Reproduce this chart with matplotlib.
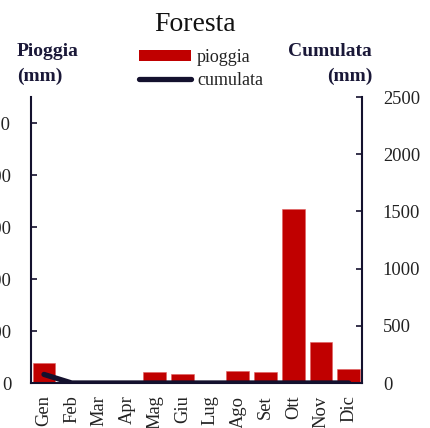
import matplotlib
matplotlib.use("Agg")
import matplotlib.pyplot as plt
from matplotlib.lines import Line2D
from matplotlib.patches import Patch

months = ["Gen", "Feb", "Mar", "Apr", "Mag", "Giu", "Lug", "Ago", "Set", "Ott", "Nov", "Dic"]
pioggia = [38, 0, 0, 0, 21, 17, 0, 24, 21, 334, 79, 27]
cumulata = [75, 0, 0, 0, 0, 0, 0, 0, 0, 0, 0, 0]

RED = "#C00000"
NAVY = "#14112E"
plt.rcParams['font.family'] = ['Liberation Serif', 'DejaVu Serif']

fig = plt.figure(figsize=(4.30, 4.28), dpi=100)
W, H = 430, 428
ax = fig.add_axes([30.7 / W, 1 - 383 / H, (362 - 30.7) / W, (383 - 97) / H])
x = list(range(len(months)))
ax.bar(x, pioggia, width=0.83, color=RED, edgecolor="#e06060", linewidth=0.4, zorder=2)
ax.set_xlim(-0.48, 11.48)
ax.set_ylim(0, 550)
ax.set_yticks([0, 100, 200, 300, 400, 500])
ax.set_xticks(x)
ax.set_xticklabels(months, rotation=90, fontsize=13.3, color="#222222")
ax.tick_params(axis='x', length=0, pad=9)
ax.tick_params(axis='y', direction='in', length=4, width=1.2, color=NAVY, labelsize=13.3,
               labelcolor="#222222", pad=14)
for s in ["top", "right"]:
    ax.spines[s].set_visible(False)
for s in ["left", "bottom"]:
    ax.spines[s].set_color(NAVY)
    ax.spines[s].set_linewidth(1.5)

ax2 = ax.twinx()
ax2.plot(x, cumulata, color=NAVY, linewidth=3.8, solid_capstyle='round', solid_joinstyle='round', zorder=3)
ax2.set_ylim(0, 2500)
ax2.set_yticks([0, 500, 1000, 1500, 2000, 2500])
ax2.tick_params(axis='y', direction='in', length=4, width=1.2, color=NAVY, labelsize=13.3,
                labelcolor="#222222", pad=15)
for s in ["top", "left", "bottom"]:
    ax2.spines[s].set_visible(False)
ax2.spines["right"].set_color(NAVY)
ax2.spines["right"].set_linewidth(1.5)

fig.text(195 / W, 1 - 31 / H, "Foresta", ha='center', va='baseline', fontsize=20, color="#111111")
lab = dict(fontsize=14, fontweight='bold', color="#1a1838", va='baseline')
fig.text(17 / W, 1 - 56 / H, "Pioggia", ha='left', **lab)
fig.text(17 / W, 1 - 81 / H, "(mm)", ha='left', **lab)
fig.text(372 / W, 1 - 56 / H, "Cumulata", ha='right', **lab)
fig.text(372 / W, 1 - 81 / H, "(mm)", ha='right', **lab)

handles = [Patch(facecolor=RED, edgecolor='none'),
           Line2D([0], [0], color=NAVY, linewidth=3.8, solid_capstyle='round')]
leg = fig.legend(handles, ["pioggia", "cumulata"], loc='center', bbox_to_anchor=(201 / W, 1 - 69 / H),
                 frameon=False, fontsize=13, handlelength=2.9, handleheight=0.55, handletextpad=0.3,
                 labelspacing=0.3, borderpad=0)
for t in leg.get_texts():
    t.set_color("#222222")

fig.savefig("out.png", dpi=100)
